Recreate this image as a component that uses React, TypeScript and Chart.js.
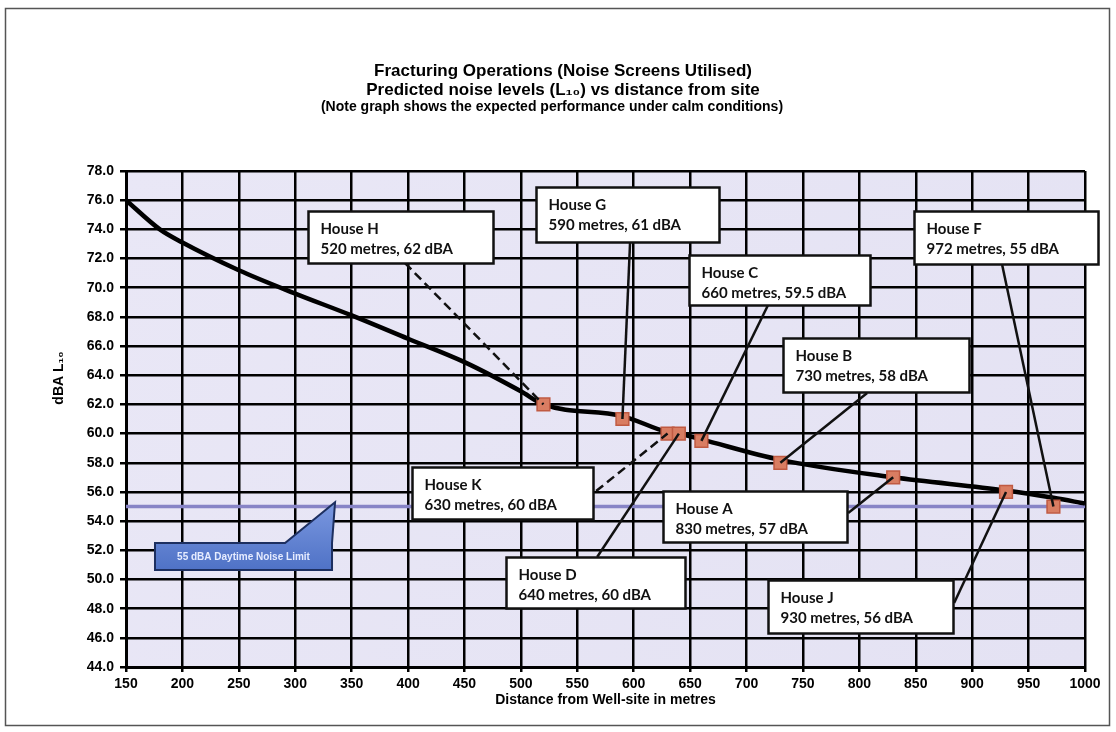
import React, { useEffect, useRef } from "react";
import { Chart, registerables } from "chart.js";

Chart.register(...registerables);

// ---------- data ----------
const titleLines = [
  "Fracturing Operations (Noise Screens Utilised)",
  "Predicted noise levels (L\u2081\u2080) vs distance from site",
];
const subtitleText = "(Note graph shows the expected performance under calm conditions)";
const xAxisTitle = "Distance from Well-site in metres";
const yAxisTitle = "dBA L\u2081\u2080";
const limitLabel = "55 dBA Daytime Noise Limit";

// predicted noise curve
const curveDistance = [150, 180, 200, 250, 300, 350, 400, 450, 500, 520, 590, 630, 640, 660, 730, 830, 930, 972, 1000];
const curveLevel = [76, 74.0, 73.1, 71.2, 69.6, 68.1, 66.5, 64.9, 62.9, 62.0, 61.2, 60.1, 60.0, 59.6, 58.2, 57.0, 56.1, 55.6, 55.2];

// receptors
const houseNames = ["House H", "House G", "House K", "House D", "House C", "House B", "House A", "House J", "House F"];
const houseDistance = [520, 590, 630, 640, 660, 730, 830, 930, 972];
const houseLevel = [62, 61, 60, 60, 59.5, 58, 57, 56, 55];

// daytime limit
const limitDistance = [150, 1000];
const limitLevel = [55, 55];

// axis ticks
const xMin = 150, xMax = 1000, xStep = 50;
const yMin = 44, yMax = 78, yStep = 2;

// ---------- annotation layout (data units for anchor, px for size) ----------
const boxLeft = [311.3, 513.5, 403.5, 486.9, 649.1, 732.4, 626.1, 719.1, 848.6];
const boxTop = [75.25, 76.9, 57.7, 51.54, 72.24, 66.55, 56.06, 49.96, 75.25];
const boxW = [185, 183, 181, 179, 181, 186, 184, 185, 184];
const boxH = [52, 55, 52, 51, 50, 54, 51, 53, 53];
const leaderX = [397.3, 596.8, 566.7, 567.6, 719.1, 806.9, 790.1, 884.0, 926.6];
const leaderY = [71.69, 73.13, 56.06, 51.54, 68.81, 62.78, 54.55, 48.39, 71.55];
const leaderDashed = [true, false, true, false, false, false, false, false, false];

// limit callout (data units)
const calloutLeft = 175.7, calloutRight = 332.6, calloutTop = 52.5, calloutBottom = 50.65;
const calloutBaseX = 291, calloutTipX = 335.3, calloutTipY = 55.3;

const W = 1116, H = 732;
const tickFont = { family: "'Liberation Sans', Arial, sans-serif", weight: "bold" as const, size: 14 };

const annotPlugin = {
  id: "annot",
  beforeDraw(chart: any) {
    const { ctx, chartArea } = chart;
    ctx.save();
    ctx.fillStyle = "#ffffff";
    ctx.fillRect(0, 0, chart.width, chart.height);
    const g = ctx.createLinearGradient(chartArea.left, chartArea.top, chartArea.right, chartArea.bottom);
    g.addColorStop(0, "#e9e7f6");
    g.addColorStop(1, "#e4e2f3");
    ctx.fillStyle = g;
    ctx.fillRect(chartArea.left, chartArea.top, chartArea.right - chartArea.left, chartArea.bottom - chartArea.top);
    ctx.restore();
  },
  afterDatasetsDraw(chart: any) {
    const { ctx } = chart;
    const xs = chart.scales.x, ys = chart.scales.y;
    const px = (v: number) => xs.getPixelForValue(v);
    const py = (v: number) => ys.getPixelForValue(v);
    ctx.save();
    // leader lines
    for (let i = 0; i < houseNames.length; i++) {
      ctx.beginPath();
      ctx.strokeStyle = "#111";
      ctx.lineWidth = 2.5;
      ctx.setLineDash(leaderDashed[i] ? [9, 5] : []);
      ctx.moveTo(px(leaderX[i]), py(leaderY[i]));
      ctx.lineTo(px(houseDistance[i]), py(houseLevel[i]));
      ctx.stroke();
    }
    ctx.setLineDash([]);
    // label boxes
    for (let i = 0; i < houseNames.length; i++) {
      const x = Math.round(px(boxLeft[i])) + 0.5;
      const y = Math.round(py(boxTop[i])) + 0.5;
      ctx.fillStyle = "#ffffff";
      ctx.fillRect(x, y, boxW[i], boxH[i]);
      ctx.strokeStyle = "#111";
      ctx.lineWidth = 2.5;
      ctx.strokeRect(x, y, boxW[i], boxH[i]);
      ctx.fillStyle = "#111";
      ctx.font = "bold 15px Lato, 'Open Sans', sans-serif";
      ctx.textAlign = "left";
      ctx.textBaseline = "middle";
      ctx.fillText(houseNames[i], x + 12, y + 18);
      ctx.fillText(`${houseDistance[i]} metres, ${houseLevel[i]} dBA`, x + 12, y + 38);
    }
    // limit callout
    const l = px(calloutLeft), r = px(calloutRight), t = py(calloutTop), b = py(calloutBottom);
    ctx.beginPath();
    ctx.moveTo(l, t);
    ctx.lineTo(px(calloutBaseX), t);
    ctx.lineTo(px(calloutTipX), py(calloutTipY));
    ctx.lineTo(r, t);
    ctx.lineTo(r, b);
    ctx.lineTo(l, b);
    ctx.closePath();
    const cg = ctx.createLinearGradient(0, py(calloutTipY), 0, b);
    cg.addColorStop(0, "#7b98e0");
    cg.addColorStop(1, "#4f72c6");
    ctx.fillStyle = cg;
    ctx.fill();
    ctx.strokeStyle = "#1d2f60";
    ctx.lineWidth = 2;
    ctx.stroke();
    ctx.fillStyle = "#e6ecff";
    ctx.font = "bold 10px 'Liberation Sans', Arial, sans-serif";
    ctx.textAlign = "center";
    ctx.textBaseline = "middle";
    ctx.fillText(limitLabel, (l + r) / 2, (t + b) / 2 + 1);
    ctx.restore();
  },
  afterDraw(chart: any) {
    const { ctx } = chart;
    ctx.save();
    ctx.fillStyle = "#000";
    ctx.textAlign = "center";
    ctx.textBaseline = "middle";
    ctx.font = "bold 17px 'Liberation Sans', Arial, sans-serif";
    ctx.fillText(titleLines[0], 563, 71);
    ctx.fillText(titleLines[1], 563, 90);
    ctx.font = "bold 14px 'Liberation Sans', Arial, sans-serif";
    ctx.fillText(subtitleText, 552, 107);
    // y axis title
    ctx.translate(59, 378);
    ctx.rotate(-Math.PI / 2);
    ctx.font = "bold 14px 'Liberation Sans', Arial, sans-serif";
    ctx.fillText(yAxisTitle, 0, 0);
    ctx.restore();
    // outer frame
    ctx.save();
    ctx.strokeStyle = "#555";
    ctx.lineWidth = 1.5;
    ctx.strokeRect(5.5, 8.5, 1104, 717);
    ctx.restore();
  },
};

export default function App() {
  const ref = useRef<HTMLCanvasElement | null>(null);
  useEffect(() => {
    if (!ref.current) return;
    const chart = new Chart(ref.current, {
      type: "scatter",
      data: {
        datasets: [
          {
            label: "Houses",
            data: houseDistance.map((d, i) => ({ x: d, y: houseLevel[i] })),
            showLine: false,
            pointStyle: "rect",
            pointRadius: 9,
            pointHoverRadius: 9,
            backgroundColor: "#d97d62",
            borderColor: "#c05a42",
            borderWidth: 1.5,
          },
          {
            label: "Predicted noise level",
            data: curveDistance.map((d, i) => ({ x: d, y: curveLevel[i] })),
            showLine: true,
            borderColor: "#000",
            borderWidth: 4.5,
            pointRadius: 0,
            cubicInterpolationMode: "monotone",
          },
          {
            label: limitLabel,
            data: limitDistance.map((d, i) => ({ x: d, y: limitLevel[i] })),
            showLine: true,
            borderColor: "#8784c6",
            borderWidth: 3.5,
            pointRadius: 0,
          },
        ],
      },
      options: {
        responsive: true,
        maintainAspectRatio: false,
        animation: false,
        events: [],
        layout: { padding: { top: 171, left: 40, right: W - 1085, bottom: 0 } },
        plugins: {
          legend: { display: false },
          tooltip: { enabled: false },
          title: { display: false },
        },
        scales: {
          x: {
            type: "linear",
            min: xMin,
            max: xMax,
            afterFit: (s: any) => { s.height = H - 667; },
            ticks: {
              stepSize: xStep,
              font: tickFont,
              color: "#000",
              padding: 4,
              maxRotation: 0,
              autoSkip: false,
              callback: (v: any) => String(v),
            },
            grid: { color: "#000", lineWidth: 2.5, tickLength: 5 },
            border: { color: "#000", width: 3 },
            title: { display: true, text: xAxisTitle, font: tickFont, color: "#000", padding: { top: 0, bottom: 23 } },
          },
          y: {
            type: "linear",
            min: yMin,
            max: yMax,
            afterFit: (s: any) => { s.width = 126 - 40; },
            ticks: {
              stepSize: yStep,
              font: tickFont,
              color: "#000",
              padding: 6,
              callback: (v: any) => Number(v).toFixed(1),
            },
            grid: { color: "#000", lineWidth: 2.5, tickLength: 6 },
            border: { color: "#000", width: 3 },
          },
        },
      },
      plugins: [annotPlugin],
    } as any);
    return () => chart.destroy();
  }, []);
  return (
    <div style={{ position: "fixed", left: 0, top: 0, width: W, height: H, background: "#fff" }}>
      <canvas ref={ref} />
    </div>
  );
}
